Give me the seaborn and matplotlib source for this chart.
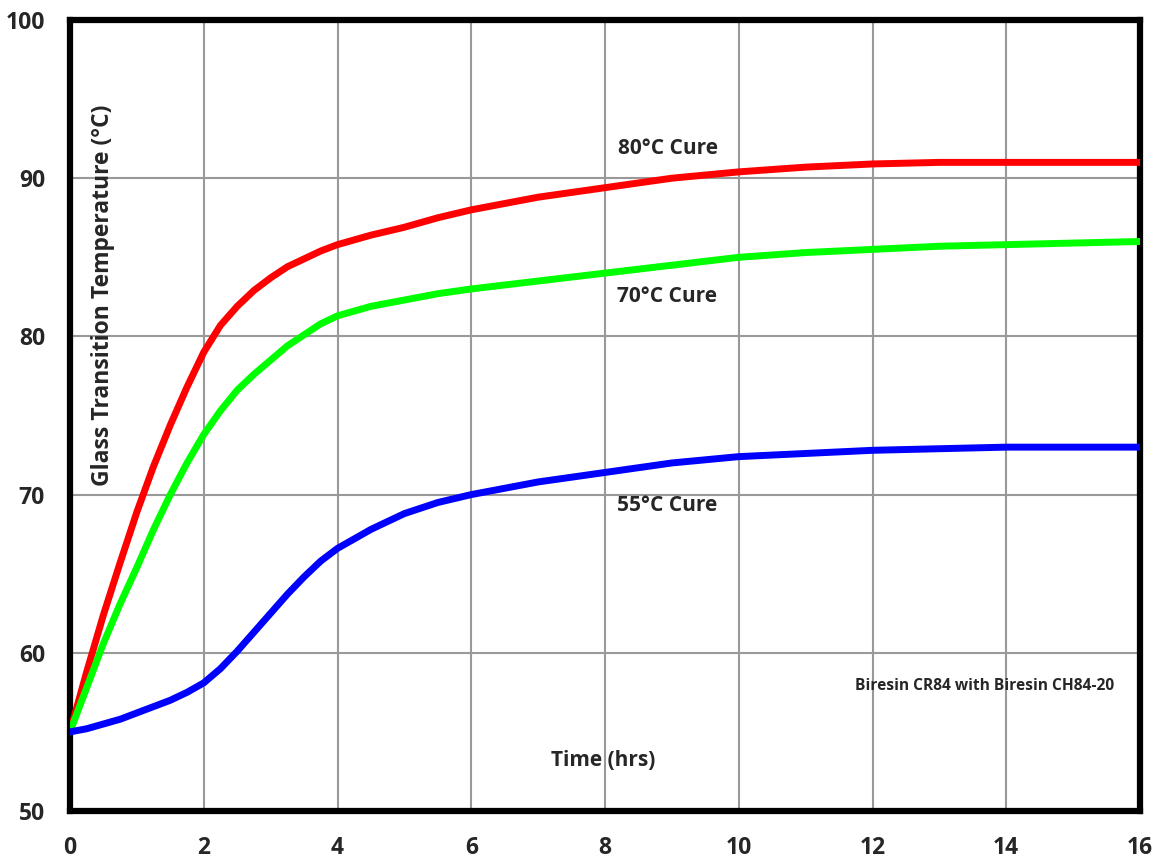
import matplotlib
matplotlib.use("Agg")
import matplotlib.pyplot as plt
import seaborn as sns
import pandas as pd
import numpy as np

# values
hours = [0, 0.25, 0.5, 0.75, 1, 1.25, 1.5, 1.75, 2, 2.25, 2.5, 2.75, 3, 3.25, 3.5, 3.75,
         4, 4.5, 5, 5.5, 6, 7, 8, 9, 10, 11, 12, 13, 14, 15, 16]
tg_80 = [55, 58.8, 62.4, 65.7, 68.9, 71.8, 74.4, 76.8, 79.0, 80.7, 81.9, 82.9, 83.7, 84.4, 84.9, 85.4,
         85.8, 86.4, 86.9, 87.5, 88.0, 88.8, 89.4, 90.0, 90.4, 90.7, 90.9, 91.0, 91.0, 91.0, 91.0]
tg_70 = [55, 57.8, 60.6, 63.1, 65.4, 67.8, 70.0, 72.0, 73.8, 75.3, 76.6, 77.6, 78.5, 79.4, 80.1, 80.8,
         81.3, 81.9, 82.3, 82.7, 83.0, 83.5, 84.0, 84.5, 85.0, 85.3, 85.5, 85.7, 85.8, 85.9, 86.0]
tg_55 = [55.0, 55.2, 55.5, 55.8, 56.2, 56.6, 57.0, 57.5, 58.1, 59.0, 60.1, 61.3, 62.5, 63.7, 64.8, 65.8,
         66.6, 67.8, 68.8, 69.5, 70.0, 70.8, 71.4, 72.0, 72.4, 72.6, 72.8, 72.9, 73.0, 73.0, 73.0]

series = ["80°C Cure", "70°C Cure", "55°C Cure"]
colors = ["#ff0000", "#00ff00", "#0000ff"]

df = pd.DataFrame({
    "Time": hours * 3,
    "Tg": tg_80 + tg_70 + tg_55,
    "Cure": sum([[s] * len(hours) for s in series], []),
})

sns.set_style("white")
plt.rcParams['font.family'] = ['Open Sans', 'DejaVu Sans']
plt.rcParams['font.weight'] = 'bold'

fig = plt.figure(figsize=(11.58, 8.61), dpi=100)
ax = fig.add_axes([70 / 1158, 50 / 861, 1070 / 1158, 791 / 861])

sns.lineplot(data=df, x="Time", y="Tg", hue="Cure", palette=dict(zip(series, colors)),
             linewidth=5, legend=False, ax=ax, zorder=3)

ax.set_xlim(0, 16)
ax.set_ylim(50, 100)
ax.set_xticks(np.arange(0, 17, 2))
ax.set_yticks(np.arange(50, 101, 10))
ax.grid(True, color="#999999", linewidth=1.5, zorder=0)
ax.set_axisbelow(True)
for sp in ax.spines.values():
    sp.set_color("black")
    sp.set_linewidth(4.5)
    sp.set_visible(True)
ax.tick_params(axis="both", length=0, labelsize=16.5)
ax.tick_params(axis="x", pad=18)
ax.tick_params(axis="y", pad=18)
for lab in ax.get_xticklabels() + ax.get_yticklabels():
    lab.set_fontweight("bold")
ax.set_xlabel("")
ax.set_ylabel("")

# in-plot labels
ax.text(8.94, 91.9, "80°C Cure", ha="center", va="center", fontsize=15, fontweight="bold")
ax.text(8.93, 82.5, "70°C Cure", ha="center", va="center", fontsize=15, fontweight="bold")
ax.text(8.93, 69.3, "55°C Cure", ha="center", va="center", fontsize=15, fontweight="bold")
ax.text(7.97, 53.2, "Time (hrs)", ha="center", va="center", fontsize=15, fontweight="bold")
ax.text(0.49, 82.6, "Glass Transition Temperature (°C)", ha="center", va="center",
        rotation=90, fontsize=16.5, fontweight="bold")
ax.text(13.68, 57.9, "Biresin CR84 with Biresin CH84-20", ha="center", va="center",
        fontsize=11.2, fontweight="bold")

fig.savefig("out.png", dpi=100)
